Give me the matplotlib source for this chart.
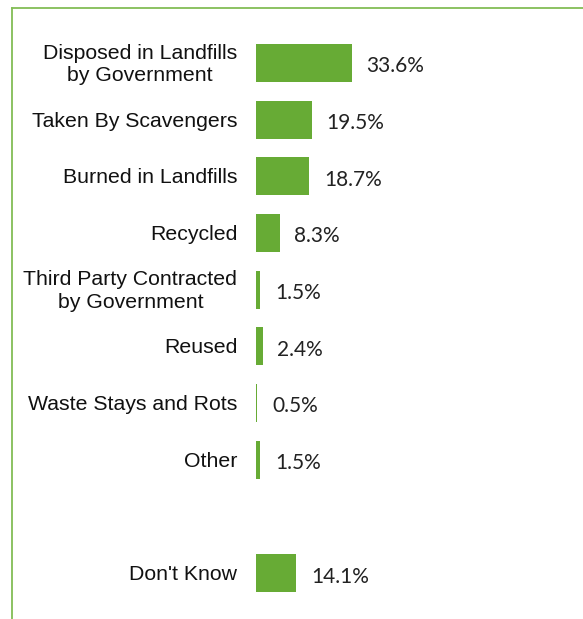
import matplotlib
matplotlib.use("Agg")
import matplotlib.pyplot as plt
from matplotlib.lines import Line2D

categories = [
    "Disposed in Landfills\nby Government",
    "Taken By Scavengers",
    "Burned in Landfills",
    "Recycled",
    "Third Party Contracted\nby Government",
    "Reused",
    "Waste Stays and Rots",
    "Other",
    "Don't Know",
]
values = [33.6, 19.5, 18.7, 8.3, 1.5, 2.4, 0.5, 1.5, 14.1]
# one empty slot before "Don't Know"
slots = [0, 1, 2, 3, 4, 5, 6, 7, 9]

bar_color = "#67ab35"
frame_color = "#82bd55"

W, H = 583, 619
fig = plt.figure(figsize=(W / 100, H / 100), dpi=100)

# axes begins where the bars start; 1 unit = ~2.86 px
x0 = 256
px_per_unit = 96 / 33.6
ax = fig.add_axes([x0 / W, 0, (W - x0) / W, 1])
ax.set_xlim(0, (W - x0) / px_per_unit)
slot_px = 56.67
top_px = 63
ax.set_ylim((H - top_px) / slot_px, -top_px / slot_px)
ax.axis("off")

ax.barh(slots, values, height=0.67, color=bar_color, edgecolor="none")

for s, v, c in zip(slots, values, categories):
    ax.annotate(f"{v}%", (v, s), xytext=(10.5, -2.5), textcoords="offset points",
                ha="left", va="center", fontsize=15, family="Lato",
                color="#222222")
    ax.annotate(c, (0, s), xytext=(-13.5, -1), textcoords="offset points",
                ha="right", va="center", multialignment="center", fontsize=15.3,
                family="Liberation Sans", color="#111111", linespacing=1.22,
                annotation_clip=False)

# green frame on the left and top
fig.add_artist(Line2D([11.5 / W, 11.5 / W], [0, 1 - 7.5 / H], transform=fig.transFigure,
                      color=frame_color, lw=1.3))
fig.add_artist(Line2D([11.5 / W, 1], [1 - 7.5 / H, 1 - 7.5 / H], transform=fig.transFigure,
                      color=frame_color, lw=1.3))

fig.savefig("out.png", dpi=100)
